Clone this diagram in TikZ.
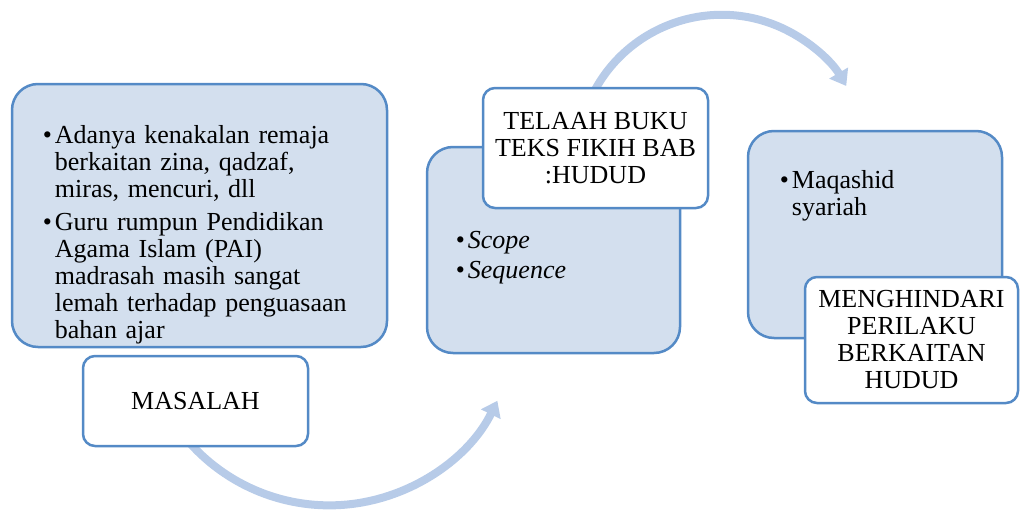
\documentclass[tikz,border=0pt]{standalone}
\usepackage{fontspec}
\setmainfont{Liberation Serif}
\usetikzlibrary{arrows.meta}
\definecolor{boxfill}{RGB}{211,223,238}
\definecolor{boxline}{RGB}{84,138,198}
\definecolor{arrowcol}{RGB}{183,203,232}
\newcommand\bitem{\par\hangindent=12pt\hangafter=1\noindent\makebox[12pt][l]{\textbullet}}
\pgfdeclarelayer{bg}
\pgfsetlayers{bg,main}
\begin{document}
\begin{tikzpicture}[x=1pt,y=-1pt,
  bluebox/.style={draw=boxline, line width=2.5pt, fill=boxfill, rounded corners=26pt, inner sep=0pt},
  whitebox/.style={draw=boxline, line width=2.5pt, fill=white, rounded corners=12pt, align=center, inner sep=0pt, font=\fontsize{26}{27}\selectfont},
  txt/.style={inner sep=0pt, anchor=north west, font=\fontsize{26}{27}\selectfont},
  flow/.style={draw=arrowcol, line width=8pt, -{Triangle[length=15pt,width=21pt]}}]
\useasboundingbox (0,0) rectangle (1020,511);
% blue boxes
\node[bluebox, minimum width=375pt, minimum height=263pt] (b1) at (199.5,215.5) {};
\node[bluebox, minimum width=253pt, minimum height=206pt] (b2) at (553.5,250) {};
\node[bluebox, minimum width=254pt, minimum height=207pt] (b3) at (875,234.5) {};
% white boxes
\node[whitebox, minimum width=225pt, minimum height=90pt] (masalah) at (195.5,401) {MASALAH};
\node[whitebox, minimum width=225pt, minimum height=120pt] (telaah) at (595.5,148) {TELAAH BUKU\\TEKS FIKIH BAB\\:HUDUD};
\node[whitebox, minimum width=213pt, minimum height=126pt] (hindari) at (911.5,340) {MENGHINDARI\\PERILAKU\\BERKAITAN\\HUDUD};
% texts
\node[txt, text width=340pt] (t1) at ([shift={(32,34)}]b1.north west)
  {\raggedright\bitem\rule{0pt}{20pt}Adanya kenakalan remaja\newline berkaitan zina, qadzaf,\newline miras, mencuri, dll\par\vspace{6pt}%
   \bitem Guru rumpun Pendidikan\newline Agama Islam (PAI)\newline madrasah masih sangat\newline lemah terhadap penguasaan\newline bahan ajar\par};
\node[txt, text width=200pt] (t2) at ([shift={(30,76)}]b2.north west)
  {\raggedright\bitem\rule{0pt}{20pt}\textit{Scope}\par\vspace{3pt}\bitem\textit{Sequence}\par};
\node[txt, text width=200pt] (t3) at ([shift={(33,32)}]b3.north west)
  {\raggedright\bitem\rule{0pt}{20pt}Maqashid\newline syariah\par};
% arrows
\begin{pgfonlayer}{bg}
\draw[flow] ([shift={(104.1,-8.8)}]masalah.south west) arc[start angle=140, end angle=26.2, radius=187.3];
\draw[flow] ([shift={(110.1,9.2)}]telaah.north west) arc[start angle=-154, end angle=-30.5, radius=144.5];
\end{pgfonlayer}
\end{tikzpicture}
\end{document}
